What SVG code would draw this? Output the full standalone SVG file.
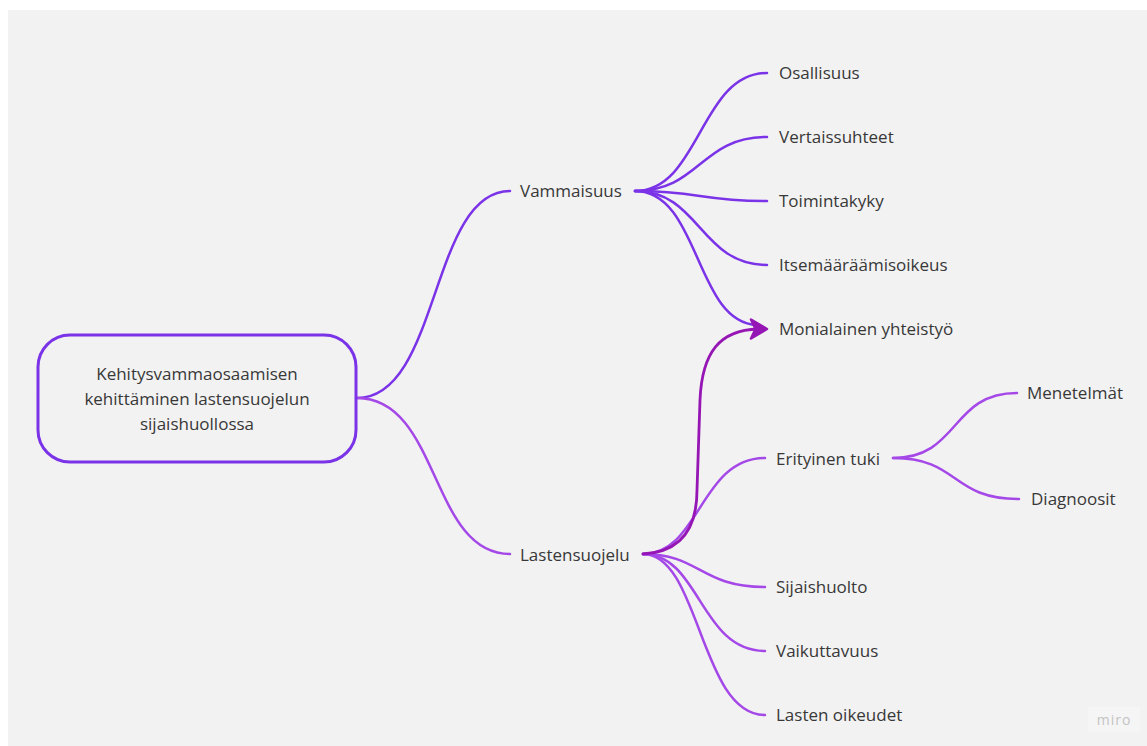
<svg xmlns="http://www.w3.org/2000/svg" width="1147" height="746" viewBox="0 0 1147 746">
<style>
.bg{fill:#f2f2f2}
text{font-family:"Open Sans","Liberation Sans",sans-serif;font-size:17px;fill:#383838}
.v{fill:none;stroke:#7b33e8;stroke-width:2.5;stroke-linecap:round}
.l{fill:none;stroke:#a548e8;stroke-width:2.5;stroke-linecap:round}
.a{fill:none;stroke:#9516b4;stroke-width:2.8;stroke-linecap:round}
.ah{fill:#9516b4;stroke:#9516b4;stroke-width:2.5;stroke-linejoin:round}
</style>
<rect x="0" y="0" width="1147" height="746" fill="#ffffff"/>
<rect class="bg" x="8" y="10" width="1139" height="736"/>
<g id="connectors">
<path class="v" d="M357,398 C440,398 430,191 510,191"/>
<path class="l" d="M357,398 C440,398 430,554 510,554"/>
<path class="v" d="M635,191 C700,191 700,73 767,73"/>
<path class="v" d="M635,191 C700,191 700,137 767,137"/>
<path class="v" d="M635,191 C700,191 700,201 767,201"/>
<path class="v" d="M635,191 C700,191 700,265 767,265"/>
<path class="v" d="M635,191 C700,191 695,323 757,325"/>
<path class="l" d="M643,554 C700,554 700,458 765,458"/>
<path class="l" d="M643,554 C700,554 700,587 765,587"/>
<path class="l" d="M643,554 C700,554 700,651 765,651"/>
<path class="l" d="M643,554 C700,554 700,715 765,715"/>
<path class="l" d="M893,458 C960,458 950,393 1017,393"/>
<path class="l" d="M893,458 C960,458 950,499 1019,499"/>
<path class="a" d="M643,554 C682,552 697,528 697,490 L700,400 C702,352 720,330 758,329"/>
<path class="ah" d="M767,329 L751,319.5 L755.5,329 L751,338.5 Z"/>
</g>
<g id="root">
<rect x="38" y="335" width="318" height="127" rx="32" ry="32" fill="none" stroke="#7b33e8" stroke-width="3"/>
<text x="197" y="380" text-anchor="middle">Kehitysvammaosaamisen</text>
<text x="197" y="405" text-anchor="middle">kehittäminen lastensuojelun</text>
<text x="197" y="430" text-anchor="middle">sijaishuollossa</text>
</g>
<g id="vammaisuus"><text x="520" y="197">Vammaisuus</text></g>
<g id="lastensuojelu"><text x="520" y="561">Lastensuojelu</text></g>
<g id="osallisuus"><text x="779" y="79">Osallisuus</text></g>
<g id="vertaissuhteet"><text x="779" y="143">Vertaissuhteet</text></g>
<g id="toimintakyky"><text x="779" y="207">Toimintakyky</text></g>
<g id="itsemaaraamisoikeus"><text x="779" y="271">Itsemääräämisoikeus</text></g>
<g id="monialainen"><text x="779" y="335">Monialainen yhteistyö</text></g>
<g id="erityinen"><text x="776" y="465">Erityinen tuki</text></g>
<g id="menetelmat"><text x="1027" y="399">Menetelmät</text></g>
<g id="diagnoosit"><text x="1031" y="505">Diagnoosit</text></g>
<g id="sijaishuolto"><text x="776" y="593">Sijaishuolto</text></g>
<g id="vaikuttavuus"><text x="776" y="657">Vaikuttavuus</text></g>
<g id="lastenoikeudet"><text x="776" y="721">Lasten oikeudet</text></g>
<g id="watermark">
<rect x="1088" y="707" width="52" height="25" fill="#f5f5f5"/>
<text x="1114" y="725" text-anchor="middle" style="font-size:14px;fill:#c4c4c4;letter-spacing:1px">miro</text>
</g>
</svg>
